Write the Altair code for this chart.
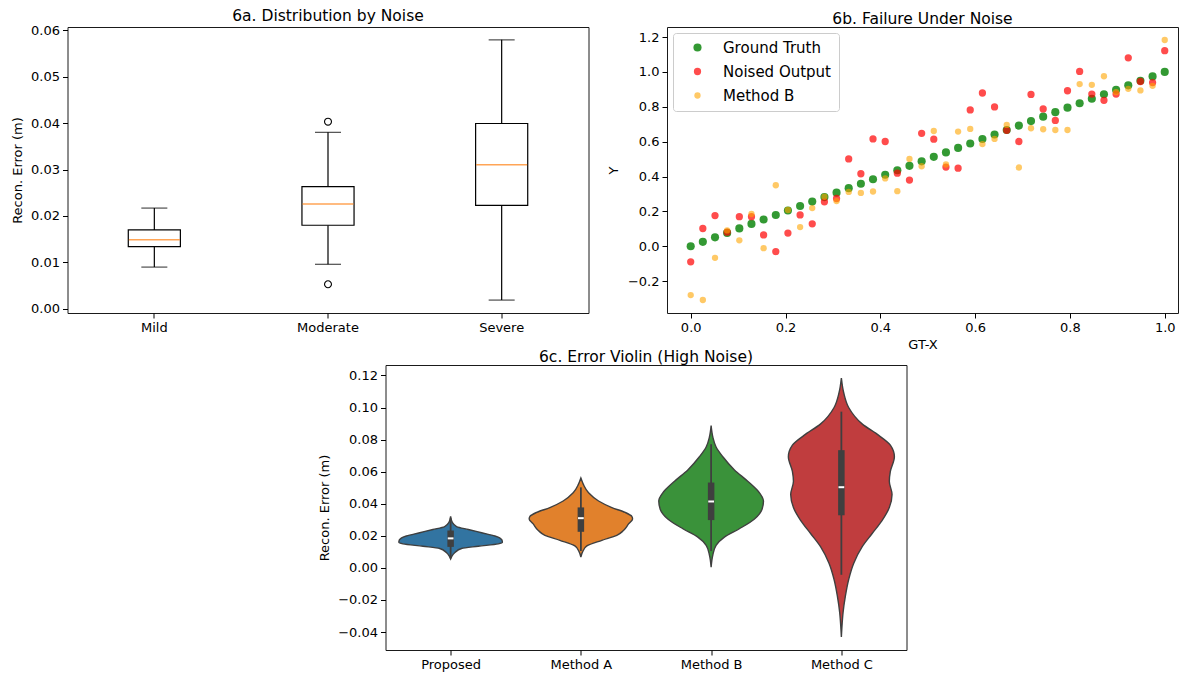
import json
import altair as alt
import pandas as pd

FONT = "DejaVu Sans"

# ---------------- 6a. Distribution by Noise (box plot) ----------------
noise_levels = ["Mild", "Moderate", "Severe"]
whisker_low = [0.0090, 0.0096, 0.0019]
quart_1 = [0.0134, 0.0180, 0.0223]
medians = [0.0149, 0.0226, 0.0310]
quart_3 = [0.0170, 0.0263, 0.0399]
whisker_high = [0.0217, 0.0380, 0.0579]
outlier_levels = ["Moderate", "Moderate"]
outlier_values = [0.0403, 0.0053]

# ---------------- 6b. Failure Under Noise (scatter) ----------------
gt_x = [0.0, 0.0256, 0.0513, 0.0769, 0.1026, 0.1282, 0.1538, 0.1795, 0.2051, 0.2308,
        0.2564, 0.2821, 0.3077, 0.3333, 0.3590, 0.3846, 0.4103, 0.4359, 0.4615, 0.4872,
        0.5128, 0.5385, 0.5641, 0.5897, 0.6154, 0.6410, 0.6667, 0.6923, 0.7179, 0.7436,
        0.7692, 0.7949, 0.8205, 0.8462, 0.8718, 0.8974, 0.9231, 0.9487, 0.9744, 1.0]
gt_y = [0.0, 0.0256, 0.0513, 0.0769, 0.1026, 0.1282, 0.1538, 0.1795, 0.2051, 0.2308,
        0.2564, 0.2821, 0.3077, 0.3333, 0.3590, 0.3846, 0.4103, 0.4359, 0.4615, 0.4872,
        0.5128, 0.5385, 0.5641, 0.5897, 0.6154, 0.6410, 0.6667, 0.6923, 0.7179, 0.7436,
        0.7692, 0.7949, 0.8205, 0.8462, 0.8718, 0.8974, 0.9231, 0.9487, 0.9744, 1.0]
noised_y = [-0.089, 0.102, 0.176, 0.081, 0.170, 0.170, 0.065, -0.030, 0.076, 0.180,
            0.129, 0.255, 0.274, 0.501, 0.416, 0.616, 0.601, 0.419, 0.380, 0.648,
            0.614, 0.454, 0.448, 0.782, 0.879, 0.799, 0.665, 0.601, 0.871, 0.788,
            0.722, 0.892, 1.003, 0.873, 0.837, 0.873, 1.081, 0.945, 0.939, 1.122]
method_b_y = [-0.280, -0.308, -0.066, 0.091, 0.034, 0.185, -0.011, 0.350, 0.208, 0.110,
              0.219, 0.284, 0.259, 0.312, 0.306, 0.314, 0.389, 0.316, 0.501, 0.459,
              0.661, 0.469, 0.658, 0.673, 0.586, 0.616, 0.696, 0.452, 0.677, 0.671,
              0.667, 0.667, 0.930, 0.926, 0.975, 0.884, 0.903, 0.894, 0.920, 1.183]
series_names = ["Ground Truth", "Noised Output", "Method B"]
series_colors = ["green", "red", "orange"]

# ---------------- 6c. Error Violin (High Noise) ----------------
methods = ["Proposed", "Method A", "Method B", "Method C"]
violin_colors = ["#3274a1", "#e1812c", "#3a923a", "#c03d3e"]
proposed_err = [0.0321, 0.0284, 0.0258, 0.0239, 0.0219, 0.0199, 0.0186, 0.0166, 0.0158,
                0.0150, 0.0135, 0.0121, 0.0096, 0.0070, 0.0056]
proposed_halfwidth = [0.0, 0.013, 0.046, 0.136, 0.238, 0.340, 0.379, 0.397, 0.397,
                      0.366, 0.212, 0.084, 0.033, 0.008, 0.0]
method_a_err = [0.0560, 0.0519, 0.0468, 0.0417, 0.0376, 0.0346, 0.0321, 0.0305, 0.0274,
                0.0233, 0.0203, 0.0172, 0.0137, 0.0100, 0.0068]
method_a_halfwidth = [0.0, 0.020, 0.059, 0.136, 0.238, 0.340, 0.391, 0.397, 0.366,
                      0.327, 0.276, 0.161, 0.046, 0.013, 0.0]
method_b_err = [0.0887, 0.0816, 0.0754, 0.0693, 0.0611, 0.0540, 0.0468, 0.0417, 0.0366,
                0.0305, 0.0244, 0.0192, 0.0141, 0.0080, 0.0005]
method_b_halfwidth = [0.0, 0.013, 0.038, 0.090, 0.179, 0.281, 0.371, 0.402, 0.391,
                      0.333, 0.217, 0.102, 0.038, 0.013, 0.0]
method_c_err = [0.1184, 0.1092, 0.1000, 0.0898, 0.0826, 0.0765, 0.0693, 0.0601, 0.0540,
                0.0458, 0.0376, 0.0295, 0.0213, 0.0131, 0.0029, -0.0073, -0.0175,
                -0.0278, -0.0359, -0.0431]
method_c_halfwidth = [0.0, 0.018, 0.056, 0.159, 0.287, 0.376, 0.407, 0.376, 0.368,
                      0.389, 0.368, 0.312, 0.235, 0.159, 0.095, 0.056, 0.031, 0.013,
                      0.005, 0.0]
inner_low = [0.0060, 0.0105, 0.0105, -0.0043]
inner_q1 = [0.0131, 0.0225, 0.0298, 0.0328]
inner_median = [0.0184, 0.0310, 0.0414, 0.0503]
inner_q3 = [0.0233, 0.0377, 0.0532, 0.0734]
inner_high = [0.0309, 0.0502, 0.0771, 0.0974]

# ======================================================================
TICK = dict(labelFont=FONT, labelFontSize=13, labelColor="black", tickColor="black",
            tickSize=5, labelPadding=3, domain=False, grid=False,
            titleFont=FONT, titleFontSize=13, titleFontWeight="normal", titleColor="black")

def title(text):
    return alt.Title(text, font=FONT, fontSize=15.5, fontWeight="normal", color="black",
                     anchor="middle", offset=0)

# ---- panel a ----
box_df = pd.DataFrame({"level": noise_levels, "low": whisker_low, "q1": quart_1,
                       "med": medians, "q3": quart_3, "high": whisker_high})
out_df = pd.DataFrame({"level": outlier_levels, "value": outlier_values})

xa = alt.X("level:N", sort=noise_levels,
           scale=alt.Scale(domain=noise_levels, paddingInner=0, paddingOuter=0),
           axis=alt.Axis(title=None, labelAngle=0, **TICK))
ya_scale = alt.Scale(domain=[-0.00088, 0.06067], nice=False, zero=False)
ya_axis = alt.Axis(title="Recon. Error (m)", values=[0, 0.01, 0.02, 0.03, 0.04, 0.05, 0.06],
                   format=".2f", titlePadding=6, **TICK)

def ya(field):
    return alt.Y(field, scale=ya_scale, axis=ya_axis)

a_w1 = alt.Chart(box_df).mark_rule(color="black", strokeWidth=1.2).encode(
    x=xa, y=ya("low:Q"), y2="q1:Q")
a_w2 = alt.Chart(box_df).mark_rule(color="black", strokeWidth=1.2).encode(
    x=xa, y=ya("q3:Q"), y2="high:Q")
a_box = alt.Chart(box_df).mark_bar(width={"band": 0.3}, fill="white", stroke="black",
                                   strokeWidth=1.2).encode(x=xa, y=ya("q1:Q"), y2="q3:Q")
a_cap1 = alt.Chart(box_df).mark_tick(color="black", size=26, thickness=1.2).encode(
    x=xa, y=ya("low:Q"))
a_cap2 = alt.Chart(box_df).mark_tick(color="black", size=26, thickness=1.2).encode(
    x=xa, y=ya("high:Q"))
a_med = alt.Chart(box_df).mark_tick(color="#ff7f0e", size=51, thickness=1.5).encode(
    x=xa, y=ya("med:Q"))
a_out = alt.Chart(out_df).mark_point(shape="circle", filled=False, color="black", size=48,
                                     strokeWidth=1.1, opacity=1).encode(x=xa, y=ya("value:Q"))
panel_a = alt.layer(a_w1, a_w2, a_box, a_cap1, a_cap2, a_med, a_out).properties(
    width=521, height=286, title=title("6a. Distribution by Noise"))

# ---- panel b ----
rows = []
for name, ys in zip(series_names, [gt_y, noised_y, method_b_y]):
    for xv, yv in zip(gt_x, ys):
        rows.append({"series": name, "x": xv, "y": yv})
scatter_df = pd.DataFrame(rows)

panel_b = alt.Chart(scatter_df).mark_point(filled=True, strokeWidth=0).encode(
    x=alt.X("x:Q", scale=alt.Scale(domain=[-0.05, 1.028], nice=False, zero=False),
            axis=alt.Axis(title="GT-X", values=[0, 0.2, 0.4, 0.6, 0.8, 1.0], format=".1f",
                          titlePadding=4, **TICK)),
    y=alt.Y("y:Q", scale=alt.Scale(domain=[-0.3826, 1.2576], nice=False, zero=False),
            axis=alt.Axis(title="Y", values=[-0.2, 0, 0.2, 0.4, 0.6, 0.8, 1.0, 1.2],
                          format=".1f", titlePadding=7, **TICK)),
    color=alt.Color("series:N", scale=alt.Scale(domain=series_names, range=series_colors),
                    legend=alt.Legend(title=None, orient="top-left", offset=6,
                                      fillColor="white", strokeColor="#cccccc",
                                      cornerRadius=3, padding=7, labelFont=FONT,
                                      labelFontSize=15, labelColor="black",
                                      symbolType="circle", rowPadding=8,
                                      labelOffset=18, symbolOffset=10)),
    size=alt.Size("series:N", scale=alt.Scale(domain=series_names, range=[66, 40, 40])),
    opacity=alt.Opacity("series:N", scale=alt.Scale(domain=series_names, range=[0.8, 0.6, 0.6])),
).properties(width=511, height=286, title=title("6b. Failure Under Noise"))

# ---- panel c ----
vrows = []
for m, errs, hws in zip(methods,
                        [proposed_err, method_a_err, method_b_err, method_c_err],
                        [proposed_halfwidth, method_a_halfwidth, method_b_halfwidth, method_c_halfwidth]):
    for e, h in zip(errs, hws):
        vrows.append({"method": m, "pos": methods.index(m), "err": e, "hw": h})
violin_df = pd.DataFrame(vrows)
inner_df = pd.DataFrame({"method": methods, "pos": list(range(len(methods))),
                         "low": inner_low, "q1": inner_q1, "med": inner_median,
                         "q3": inner_q3, "high": inner_high})

xc_scale = alt.Scale(domain=[-0.5, 3.5], nice=False, zero=False)
xc_axis = alt.Axis(title=None, values=[0, 1, 2, 3],
                   labelExpr=json.dumps(methods) + "[datum.value]", **TICK)
yc_scale = alt.Scale(domain=[-0.0512, 0.1265], nice=False, zero=False)
yc_axis = alt.Axis(title="Recon. Error (m)", values=[-0.04, -0.02, 0, 0.02, 0.04, 0.06, 0.08, 0.10, 0.12],
                   format=".2f", titlePadding=6, **TICK)

violin_layers = []
for m, col in zip(methods, violin_colors):
    violin_layers.append(
        alt.Chart(violin_df).transform_filter(alt.datum.method == m).transform_calculate(
            lo="datum.pos - datum.hw", hi="datum.pos + datum.hw"
        ).mark_area(orient="horizontal", interpolate="monotone", fill=col, stroke="#3f3f3f",
                    strokeWidth=1.4, opacity=1).encode(
            y=alt.Y("err:Q", scale=yc_scale, axis=yc_axis),
            x=alt.X("lo:Q", scale=xc_scale, axis=xc_axis, stack=None),
            x2="hi:Q",
        )
    )
c_whisk = alt.Chart(inner_df).mark_rule(color="#3f3f3f", strokeWidth=1.8).encode(
    x=alt.X("pos:Q", scale=xc_scale, axis=xc_axis),
    y=alt.Y("low:Q", scale=yc_scale, axis=yc_axis), y2="high:Q")
c_box = alt.Chart(inner_df).mark_rule(color="#3f3f3f", strokeWidth=6.5).encode(
    x=alt.X("pos:Q", scale=xc_scale, axis=xc_axis),
    y=alt.Y("q1:Q", scale=yc_scale, axis=yc_axis), y2="q3:Q")
c_med = alt.Chart(inner_df).transform_calculate(
    m0="datum.pos - 0.022", m1="datum.pos + 0.022"
).mark_rule(color="white", strokeWidth=2).encode(
    x=alt.X("m0:Q", scale=xc_scale, axis=xc_axis), x2="m1:Q",
    y=alt.Y("med:Q", scale=yc_scale, axis=yc_axis))
panel_c = alt.layer(*violin_layers, c_whisk, c_box, c_med).properties(
    width=521, height=285, title=title("6c. Error Violin (High Noise)"))

spacer = alt.Chart(pd.DataFrame({"z": [0]})).mark_point(opacity=0).encode(
    x=alt.X("z:Q", axis=None), y=alt.Y("z:Q", axis=None)
).properties(width=239, height=5, view=alt.ViewBackground(stroke="transparent"))

top = alt.hconcat(panel_a, panel_b, spacing=16.5).resolve_scale(
    color="independent", size="independent", opacity="independent"
).resolve_legend(color="independent", size="independent", opacity="independent")
bottom = alt.hconcat(spacer, panel_c, spacing=10)
chart = alt.vconcat(top, bottom, spacing=-3).resolve_scale(
    color="independent", size="independent", opacity="independent"
).resolve_legend(color="independent", size="independent", opacity="independent").properties(
    padding={"left": 2.5, "top": 0, "right": 0, "bottom": 0}
).configure(
    background="white",
    view=alt.ViewConfig(stroke="#1a1a1a", strokeWidth=1),
)

chart.save("out.html", embed_options={"renderer": "svg", "actions": False})
